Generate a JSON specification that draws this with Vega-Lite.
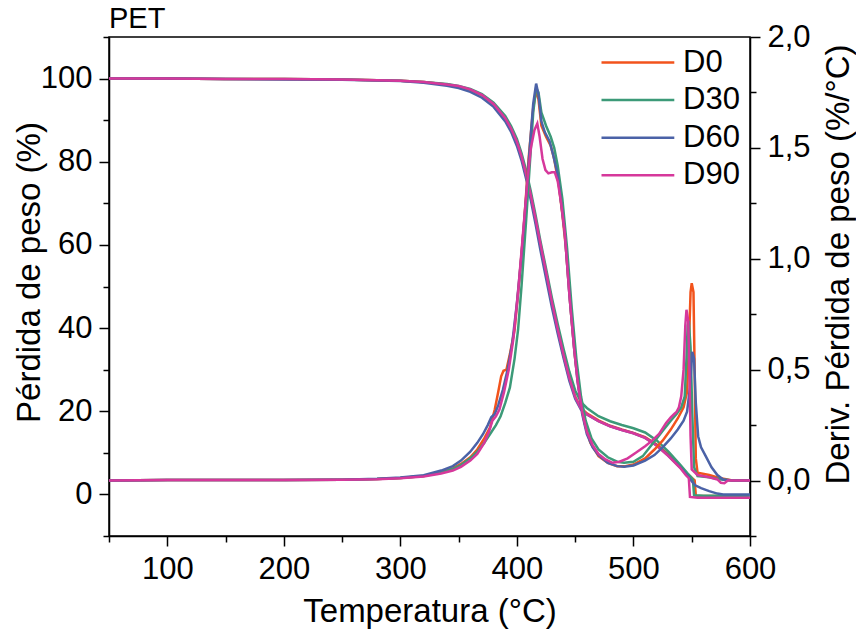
{
"$schema": "https://vega.github.io/schema/vega-lite/v6.json",
"width": 641, "height": 499,
"autosize": {"type": "none"},
"padding": {"left": 109, "top": 37, "right": 106, "bottom": 102},
"background": "white",
"config": {
  "view": {"stroke": "black", "strokeWidth": 1.5},
  "font": "Liberation Sans",
  "axis": {"domainColor": "black", "domainWidth": 1.5, "tickColor": "black", "tickWidth": 1.5, "tickSize": 10, "labelFont": "Liberation Sans", "labelFontSize": 31, "labelColor": "black", "titleFont": "Liberation Sans", "titleFontSize": 33, "titleFontWeight": "normal", "titleColor": "black", "grid": false, "labelOverlap": false, "labelFlush": false, "labelBound": false}
},
"title": {"text": "PET", "anchor": "start", "frame": "group", "fontSize": 29, "fontWeight": "normal", "font": "Liberation Sans", "color": "black", "offset": 0, "dy": 36, "baseline": "alphabetic"},
"datasets": {
"tg": [
{"s":"D0","T":50,"v":100},{"s":"D0","T":100,"v":100},{"s":"D0","T":150,"v":99.9},{"s":"D0","T":200,"v":99.9},{"s":"D0","T":250,"v":99.8},{"s":"D0","T":300,"v":99.5},{"s":"D0","T":320,"v":99.2},{"s":"D0","T":340,"v":98.6},{"s":"D0","T":350,"v":98.1},{"s":"D0","T":360,"v":97.3},{"s":"D0","T":370,"v":96.0},{"s":"D0","T":380,"v":93.8},{"s":"D0","T":390,"v":90.3},{"s":"D0","T":395,"v":87.8},{"s":"D0","T":400,"v":84.5},{"s":"D0","T":404,"v":81},{"s":"D0","T":408,"v":76.5},{"s":"D0","T":412,"v":71.5},{"s":"D0","T":416,"v":66},{"s":"D0","T":420,"v":60},{"s":"D0","T":425,"v":53},{"s":"D0","T":430,"v":46},{"s":"D0","T":435,"v":39.5},{"s":"D0","T":440,"v":33.5},{"s":"D0","T":445,"v":28},{"s":"D0","T":450,"v":23.5},{"s":"D0","T":455,"v":20.8},{"s":"D0","T":460,"v":19.5},{"s":"D0","T":470,"v":17.8},{"s":"D0","T":480,"v":16.5},{"s":"D0","T":490,"v":15.6},{"s":"D0","T":500,"v":14.8},{"s":"D0","T":510,"v":13.8},{"s":"D0","T":520,"v":12.0},{"s":"D0","T":530,"v":9.6},{"s":"D0","T":540,"v":6.8},{"s":"D0","T":546,"v":5.0},{"s":"D0","T":550,"v":4.0},{"s":"D0","T":552.5,"v":3.4},{"s":"D0","T":553.5,"v":-0.3},{"s":"D0","T":560,"v":-0.4},{"s":"D0","T":600,"v":-0.4},
{"s":"D30","T":50,"v":100},{"s":"D30","T":100,"v":100},{"s":"D30","T":150,"v":99.9},{"s":"D30","T":200,"v":99.9},{"s":"D30","T":250,"v":99.8},{"s":"D30","T":300,"v":99.5},{"s":"D30","T":320,"v":99.2},{"s":"D30","T":340,"v":98.7},{"s":"D30","T":350,"v":98.2},{"s":"D30","T":360,"v":97.5},{"s":"D30","T":370,"v":96.3},{"s":"D30","T":380,"v":94.2},{"s":"D30","T":390,"v":91},{"s":"D30","T":395,"v":88.6},{"s":"D30","T":400,"v":85.5},{"s":"D30","T":404,"v":82},{"s":"D30","T":408,"v":77.8},{"s":"D30","T":412,"v":72.8},{"s":"D30","T":416,"v":67.2},{"s":"D30","T":420,"v":61.2},{"s":"D30","T":425,"v":54.3},{"s":"D30","T":430,"v":47.3},{"s":"D30","T":435,"v":41},{"s":"D30","T":440,"v":35},{"s":"D30","T":445,"v":29.5},{"s":"D30","T":450,"v":25},{"s":"D30","T":455,"v":22.2},{"s":"D30","T":460,"v":20.8},{"s":"D30","T":470,"v":18.8},{"s":"D30","T":480,"v":17.6},{"s":"D30","T":490,"v":16.7},{"s":"D30","T":500,"v":15.9},{"s":"D30","T":510,"v":14.9},{"s":"D30","T":520,"v":13},{"s":"D30","T":530,"v":10.3},{"s":"D30","T":540,"v":7.2},{"s":"D30","T":546,"v":5.2},{"s":"D30","T":549,"v":4.3},{"s":"D30","T":551,"v":3.6},{"s":"D30","T":552,"v":-0.2},{"s":"D30","T":560,"v":-0.3},{"s":"D30","T":600,"v":-0.3},
{"s":"D60","T":50,"v":100},{"s":"D60","T":100,"v":100},{"s":"D60","T":150,"v":99.9},{"s":"D60","T":200,"v":99.8},{"s":"D60","T":250,"v":99.7},{"s":"D60","T":300,"v":99.4},{"s":"D60","T":320,"v":99.0},{"s":"D60","T":340,"v":98.3},{"s":"D60","T":350,"v":97.7},{"s":"D60","T":360,"v":96.8},{"s":"D60","T":370,"v":95.4},{"s":"D60","T":380,"v":93.2},{"s":"D60","T":390,"v":89.7},{"s":"D60","T":395,"v":87.2},{"s":"D60","T":400,"v":83.8},{"s":"D60","T":404,"v":80.3},{"s":"D60","T":408,"v":75.8},{"s":"D60","T":412,"v":70.7},{"s":"D60","T":416,"v":65},{"s":"D60","T":420,"v":59},{"s":"D60","T":425,"v":52},{"s":"D60","T":430,"v":45},{"s":"D60","T":435,"v":38.7},{"s":"D60","T":440,"v":32.8},{"s":"D60","T":445,"v":27.3},{"s":"D60","T":450,"v":23},{"s":"D60","T":455,"v":20.4},{"s":"D60","T":460,"v":19.2},{"s":"D60","T":470,"v":17.6},{"s":"D60","T":480,"v":16.4},{"s":"D60","T":490,"v":15.5},{"s":"D60","T":500,"v":14.7},{"s":"D60","T":510,"v":13.6},{"s":"D60","T":520,"v":11.8},{"s":"D60","T":530,"v":9.3},{"s":"D60","T":540,"v":6.5},{"s":"D60","T":546,"v":4.6},{"s":"D60","T":550,"v":3.2},{"s":"D60","T":553,"v":2.2},{"s":"D60","T":558,"v":1.5},{"s":"D60","T":565,"v":0.8},{"s":"D60","T":572,"v":0.2},{"s":"D60","T":577,"v":0.0},{"s":"D60","T":600,"v":0.0},
{"s":"D90","T":50,"v":100},{"s":"D90","T":100,"v":100},{"s":"D90","T":150,"v":99.9},{"s":"D90","T":200,"v":99.9},{"s":"D90","T":250,"v":99.8},{"s":"D90","T":300,"v":99.5},{"s":"D90","T":320,"v":99.2},{"s":"D90","T":340,"v":98.6},{"s":"D90","T":350,"v":98.2},{"s":"D90","T":360,"v":97.4},{"s":"D90","T":370,"v":96.1},{"s":"D90","T":380,"v":93.9},{"s":"D90","T":390,"v":90.5},{"s":"D90","T":395,"v":88},{"s":"D90","T":400,"v":84.8},{"s":"D90","T":404,"v":81.3},{"s":"D90","T":408,"v":76.8},{"s":"D90","T":412,"v":71.8},{"s":"D90","T":416,"v":66.3},{"s":"D90","T":420,"v":60.5},{"s":"D90","T":425,"v":53.5},{"s":"D90","T":430,"v":46.3},{"s":"D90","T":435,"v":39.7},{"s":"D90","T":440,"v":33.6},{"s":"D90","T":445,"v":28},{"s":"D90","T":450,"v":23.4},{"s":"D90","T":455,"v":20.6},{"s":"D90","T":460,"v":19.3},{"s":"D90","T":470,"v":17.6},{"s":"D90","T":480,"v":16.4},{"s":"D90","T":490,"v":15.5},{"s":"D90","T":500,"v":14.7},{"s":"D90","T":510,"v":13.6},{"s":"D90","T":520,"v":11.7},{"s":"D90","T":530,"v":9.2},{"s":"D90","T":540,"v":6.4},{"s":"D90","T":545,"v":4.6},{"s":"D90","T":547.5,"v":3.9},{"s":"D90","T":548.5,"v":-0.6},{"s":"D90","T":555,"v":-0.8},{"s":"D90","T":600,"v":-0.8}
],
"dtg": [
{"s":"D0","T":50,"v":0},{"s":"D0","T":100,"v":0.003},{"s":"D0","T":150,"v":0.003},{"s":"D0","T":200,"v":0.002},{"s":"D0","T":250,"v":0.004},{"s":"D0","T":280,"v":0.007},{"s":"D0","T":300,"v":0.012},{"s":"D0","T":320,"v":0.02},{"s":"D0","T":335,"v":0.038},{"s":"D0","T":345,"v":0.055},{"s":"D0","T":352,"v":0.075},{"s":"D0","T":360,"v":0.105},{"s":"D0","T":366,"v":0.14},{"s":"D0","T":372,"v":0.19},{"s":"D0","T":377,"v":0.24},{"s":"D0","T":381,"v":0.32},{"s":"D0","T":384,"v":0.4},{"s":"D0","T":386.5,"v":0.47},{"s":"D0","T":388.5,"v":0.495},{"s":"D0","T":391,"v":0.5},{"s":"D0","T":394,"v":0.57},{"s":"D0","T":398,"v":0.68},{"s":"D0","T":402,"v":0.9},{"s":"D0","T":406,"v":1.15},{"s":"D0","T":410,"v":1.45},{"s":"D0","T":414,"v":1.68},{"s":"D0","T":416.5,"v":1.76},{"s":"D0","T":418.5,"v":1.72},{"s":"D0","T":421,"v":1.6},{"s":"D0","T":425,"v":1.55},{"s":"D0","T":429,"v":1.51},{"s":"D0","T":432,"v":1.45},{"s":"D0","T":436,"v":1.33},{"s":"D0","T":439,"v":1.2},{"s":"D0","T":442,"v":1.05},{"s":"D0","T":446,"v":0.78},{"s":"D0","T":450,"v":0.55},{"s":"D0","T":454,"v":0.38},{"s":"D0","T":458,"v":0.26},{"s":"D0","T":463,"v":0.17},{"s":"D0","T":470,"v":0.11},{"s":"D0","T":478,"v":0.08},{"s":"D0","T":486,"v":0.065},{"s":"D0","T":492,"v":0.064},{"s":"D0","T":500,"v":0.072},{"s":"D0","T":510,"v":0.1},{"s":"D0","T":518,"v":0.14},{"s":"D0","T":525,"v":0.18},{"s":"D0","T":532,"v":0.23},{"s":"D0","T":538,"v":0.28},{"s":"D0","T":543,"v":0.33},{"s":"D0","T":546,"v":0.4},{"s":"D0","T":547.5,"v":0.6},{"s":"D0","T":549,"v":0.85},{"s":"D0","T":550,"v":0.89},{"s":"D0","T":551.5,"v":0.85},{"s":"D0","T":552.5,"v":0.5},{"s":"D0","T":553.5,"v":0.1},{"s":"D0","T":555,"v":0.035},{"s":"D0","T":565,"v":0.025},{"s":"D0","T":575,"v":0.01},{"s":"D0","T":585,"v":0.0},{"s":"D0","T":600,"v":0.0},
{"s":"D30","T":50,"v":0},{"s":"D30","T":100,"v":0.003},{"s":"D30","T":150,"v":0.003},{"s":"D30","T":200,"v":0.002},{"s":"D30","T":250,"v":0.004},{"s":"D30","T":280,"v":0.007},{"s":"D30","T":300,"v":0.012},{"s":"D30","T":320,"v":0.02},{"s":"D30","T":335,"v":0.036},{"s":"D30","T":345,"v":0.052},{"s":"D30","T":352,"v":0.07},{"s":"D30","T":360,"v":0.1},{"s":"D30","T":366,"v":0.13},{"s":"D30","T":372,"v":0.17},{"s":"D30","T":377,"v":0.21},{"s":"D30","T":382,"v":0.25},{"s":"D30","T":386,"v":0.29},{"s":"D30","T":390,"v":0.35},{"s":"D30","T":394,"v":0.42},{"s":"D30","T":398,"v":0.55},{"s":"D30","T":401,"v":0.68},{"s":"D30","T":404,"v":0.88},{"s":"D30","T":408,"v":1.18},{"s":"D30","T":411,"v":1.42},{"s":"D30","T":414,"v":1.66},{"s":"D30","T":416.5,"v":1.77},{"s":"D30","T":418.5,"v":1.75},{"s":"D30","T":421,"v":1.66},{"s":"D30","T":425,"v":1.6},{"s":"D30","T":429,"v":1.55},{"s":"D30","T":432,"v":1.5},{"s":"D30","T":435,"v":1.42},{"s":"D30","T":439,"v":1.27},{"s":"D30","T":443,"v":1.05},{"s":"D30","T":447,"v":0.78},{"s":"D30","T":451,"v":0.55},{"s":"D30","T":455,"v":0.38},{"s":"D30","T":459,"v":0.27},{"s":"D30","T":464,"v":0.19},{"s":"D30","T":470,"v":0.14},{"s":"D30","T":478,"v":0.105},{"s":"D30","T":486,"v":0.085},{"s":"D30","T":492,"v":0.08},{"s":"D30","T":500,"v":0.085},{"s":"D30","T":508,"v":0.11},{"s":"D30","T":514,"v":0.15},{"s":"D30","T":520,"v":0.19},{"s":"D30","T":526,"v":0.23},{"s":"D30","T":532,"v":0.27},{"s":"D30","T":537,"v":0.3},{"s":"D30","T":541,"v":0.33},{"s":"D30","T":544,"v":0.38},{"s":"D30","T":545.5,"v":0.55},{"s":"D30","T":546.5,"v":0.7},{"s":"D30","T":547.5,"v":0.72},{"s":"D30","T":549,"v":0.6},{"s":"D30","T":550.5,"v":0.3},{"s":"D30","T":552,"v":0.06},{"s":"D30","T":555,"v":0.02},{"s":"D30","T":565,"v":0.015},{"s":"D30","T":575,"v":0.005},{"s":"D30","T":585,"v":0.0},{"s":"D30","T":600,"v":0.0},
{"s":"D60","T":50,"v":0},{"s":"D60","T":100,"v":0.003},{"s":"D60","T":150,"v":0.003},{"s":"D60","T":200,"v":0.002},{"s":"D60","T":250,"v":0.004},{"s":"D60","T":280,"v":0.008},{"s":"D60","T":300,"v":0.014},{"s":"D60","T":320,"v":0.024},{"s":"D60","T":335,"v":0.045},{"s":"D60","T":345,"v":0.065},{"s":"D60","T":352,"v":0.09},{"s":"D60","T":360,"v":0.13},{"s":"D60","T":366,"v":0.17},{"s":"D60","T":371,"v":0.21},{"s":"D60","T":375,"v":0.25},{"s":"D60","T":378,"v":0.285},{"s":"D60","T":381,"v":0.3},{"s":"D60","T":384,"v":0.34},{"s":"D60","T":388,"v":0.41},{"s":"D60","T":392,"v":0.5},{"s":"D60","T":396,"v":0.62},{"s":"D60","T":400,"v":0.8},{"s":"D60","T":404,"v":1.02},{"s":"D60","T":408,"v":1.28},{"s":"D60","T":411,"v":1.5},{"s":"D60","T":414,"v":1.7},{"s":"D60","T":416.5,"v":1.79},{"s":"D60","T":418.5,"v":1.74},{"s":"D60","T":421,"v":1.62},{"s":"D60","T":424,"v":1.57},{"s":"D60","T":428,"v":1.53},{"s":"D60","T":431,"v":1.47},{"s":"D60","T":435,"v":1.38},{"s":"D60","T":438,"v":1.25},{"s":"D60","T":441,"v":1.12},{"s":"D60","T":445,"v":0.84},{"s":"D60","T":449,"v":0.6},{"s":"D60","T":452,"v":0.45},{"s":"D60","T":456,"v":0.3},{"s":"D60","T":460,"v":0.21},{"s":"D60","T":465,"v":0.15},{"s":"D60","T":470,"v":0.115},{"s":"D60","T":478,"v":0.08},{"s":"D60","T":486,"v":0.065},{"s":"D60","T":492,"v":0.062},{"s":"D60","T":500,"v":0.068},{"s":"D60","T":510,"v":0.09},{"s":"D60","T":518,"v":0.115},{"s":"D60","T":525,"v":0.15},{"s":"D60","T":532,"v":0.19},{"s":"D60","T":538,"v":0.23},{"s":"D60","T":543,"v":0.27},{"s":"D60","T":546,"v":0.31},{"s":"D60","T":548.5,"v":0.42},{"s":"D60","T":550.5,"v":0.58},{"s":"D60","T":552,"v":0.55},{"s":"D60","T":553.5,"v":0.35},{"s":"D60","T":555.5,"v":0.2},{"s":"D60","T":558,"v":0.15},{"s":"D60","T":562,"v":0.11},{"s":"D60","T":567,"v":0.06},{"s":"D60","T":572,"v":0.025},{"s":"D60","T":577,"v":0.005},{"s":"D60","T":585,"v":0.0},{"s":"D60","T":600,"v":0.0},
{"s":"D90","T":50,"v":0},{"s":"D90","T":100,"v":0.003},{"s":"D90","T":150,"v":0.003},{"s":"D90","T":200,"v":0.002},{"s":"D90","T":250,"v":0.004},{"s":"D90","T":280,"v":0.006},{"s":"D90","T":300,"v":0.01},{"s":"D90","T":320,"v":0.018},{"s":"D90","T":335,"v":0.032},{"s":"D90","T":345,"v":0.045},{"s":"D90","T":352,"v":0.062},{"s":"D90","T":360,"v":0.09},{"s":"D90","T":366,"v":0.12},{"s":"D90","T":372,"v":0.17},{"s":"D90","T":376,"v":0.22},{"s":"D90","T":379,"v":0.27},{"s":"D90","T":382,"v":0.29},{"s":"D90","T":385,"v":0.32},{"s":"D90","T":389,"v":0.4},{"s":"D90","T":393,"v":0.5},{"s":"D90","T":397,"v":0.64},{"s":"D90","T":401,"v":0.85},{"s":"D90","T":405,"v":1.1},{"s":"D90","T":409,"v":1.35},{"s":"D90","T":412,"v":1.5},{"s":"D90","T":415,"v":1.58},{"s":"D90","T":417.5,"v":1.61},{"s":"D90","T":419.5,"v":1.55},{"s":"D90","T":422,"v":1.45},{"s":"D90","T":424.5,"v":1.4},{"s":"D90","T":427,"v":1.385},{"s":"D90","T":430,"v":1.39},{"s":"D90","T":432.5,"v":1.39},{"s":"D90","T":435,"v":1.35},{"s":"D90","T":438,"v":1.25},{"s":"D90","T":441,"v":1.12},{"s":"D90","T":445,"v":0.84},{"s":"D90","T":449,"v":0.6},{"s":"D90","T":452,"v":0.45},{"s":"D90","T":456,"v":0.31},{"s":"D90","T":460,"v":0.22},{"s":"D90","T":465,"v":0.16},{"s":"D90","T":470,"v":0.12},{"s":"D90","T":476,"v":0.095},{"s":"D90","T":482,"v":0.08},{"s":"D90","T":488,"v":0.085},{"s":"D90","T":495,"v":0.1},{"s":"D90","T":502,"v":0.125},{"s":"D90","T":510,"v":0.155},{"s":"D90","T":516,"v":0.18},{"s":"D90","T":522,"v":0.21},{"s":"D90","T":528,"v":0.26},{"s":"D90","T":532,"v":0.285},{"s":"D90","T":535,"v":0.3},{"s":"D90","T":537,"v":0.31},{"s":"D90","T":539,"v":0.33},{"s":"D90","T":541,"v":0.38},{"s":"D90","T":543,"v":0.5},{"s":"D90","T":544.5,"v":0.7},{"s":"D90","T":545.5,"v":0.77},{"s":"D90","T":547,"v":0.72},{"s":"D90","T":548,"v":0.5},{"s":"D90","T":549,"v":0.2},{"s":"D90","T":550,"v":0.05},{"s":"D90","T":555,"v":0.025},{"s":"D90","T":565,"v":0.015},{"s":"D90","T":572,"v":0.005},{"s":"D90","T":575,"v":-0.01},{"s":"D90","T":578,"v":-0.012},{"s":"D90","T":581,"v":0.0},{"s":"D90","T":600,"v":0.0}
]
},
"encoding": {
  "x": {"field": "T", "type": "quantitative", "scale": {"domain": [50, 600], "nice": false, "zero": false},
    "axis": {"title": "Temperatura (°C)", "values": [50,100,150,200,250,300,350,400,450,500,550,600],
      "labelExpr": "datum.value % 100 === 0 ? datum.value : ''",
      "tickDash": {"condition": {"test": "datum.value % 100 !== 0", "value": [6, 30]}, "value": [20, 0]},
      "labelPadding": 8, "titlePadding": 11}},
  "color": {"field": "s", "type": "nominal",
    "scale": {"domain": ["D0", "D30", "D60", "D90"], "range": ["#F2531C", "#3C9A78", "#4B62A7", "#D6389B"]},
    "legend": {"orient": "none", "legendX": 491, "legendY": 10, "title": null, "symbolType": "M-1,0H4.2", "symbolSize": 784, "symbolStrokeWidth": 2.5, "labelFontSize": 31, "labelFont": "Liberation Sans", "labelColor": "black", "labelOffset": 52, "rowPadding": 5.6, "padding": 0}}
},
"layer": [
  {"data": {"name": "tg"}, "mark": {"type": "line", "strokeWidth": 2.5},
   "encoding": {"y": {"field": "v", "type": "quantitative", "scale": {"domain": [-10, 110], "nice": false, "zero": false},
     "axis": {"orient": "left", "title": "Pérdida de peso (%)", "values": [-10,0,10,20,30,40,50,60,70,80,90,100,110],
       "labelExpr": "datum.value % 20 === 0 ? datum.value : ''",
       "tickDash": {"condition": {"test": "datum.value % 20 !== 0", "value": [6, 30]}, "value": [20, 0]},
       "labelPadding": 7, "titleX": -80, "titleY": 235, "titleBaseline": "middle", "titleAngle": 270}}}},
  {"data": {"name": "dtg"}, "mark": {"type": "line", "strokeWidth": 2.5},
   "encoding": {"y": {"field": "v", "type": "quantitative", "scale": {"domain": [-0.25, 2.0], "nice": false, "zero": false},
     "axis": {"orient": "right", "title": "Deriv. Pérdida de peso (%/°C)", "values": [-0.25,0,0.25,0.5,0.75,1,1.25,1.5,1.75,2],
       "labelExpr": "abs(datum.value*2 - round(datum.value*2)) < 0.01 ? replace(format(datum.value, '.1f'), '.', ',') : ''",
       "tickDash": {"condition": {"test": "abs(datum.value*2 - round(datum.value*2)) > 0.01", "value": [6, 30]}, "value": [20, 0]},
       "labelPadding": 7, "titleX": 88, "titleY": 227, "titleBaseline": "middle", "titleAngle": 270}}}}
],
"resolve": {"scale": {"y": "independent"}}
}
